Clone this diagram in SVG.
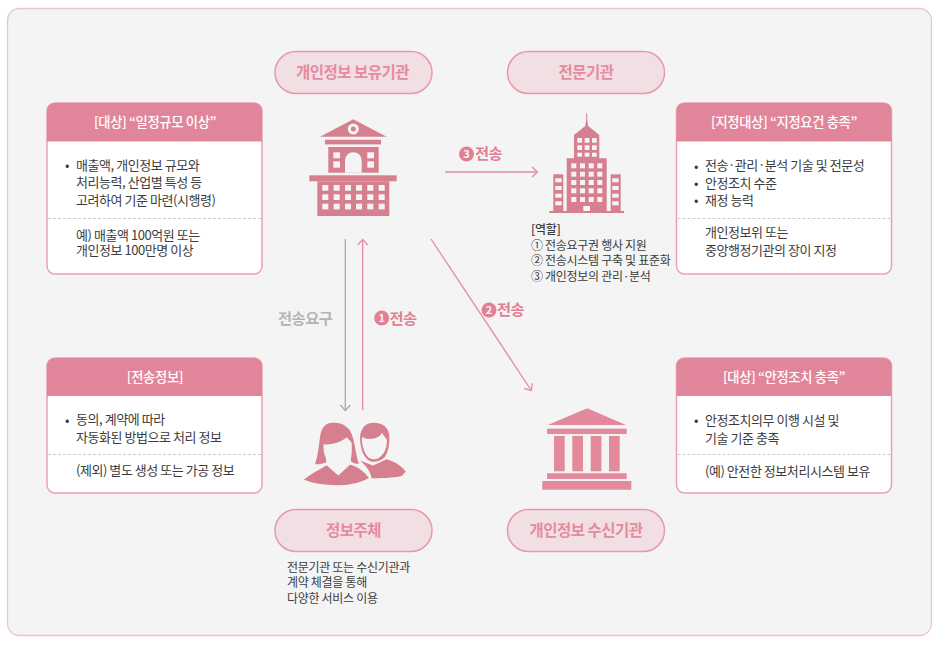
<svg xmlns="http://www.w3.org/2000/svg" width="940" height="645" viewBox="0 0 940 645">
<style>
text{font-family:"Noto Sans CJK KR","Noto Sans",sans-serif;}
.b{font-size:13px;fill:#3c3c3c;letter-spacing:-.45px}
.s{font-size:12px;fill:#3c3c3c;letter-spacing:-.3px}
.h{font-size:13.300px;fill:#fff;font-weight:500;text-anchor:middle;letter-spacing:-.35px}
.p{font-size:15.500px;fill:#e58ba0;font-weight:700;text-anchor:middle;letter-spacing:-.5px}
.card{fill:#fff;stroke:#e9a0b0;stroke-width:1.5}
.head{fill:#e1869a}
.dash{stroke:#ccc;stroke-width:1;stroke-dasharray:3 2}
.pill{fill:#f2dfe4;stroke:#e799ab;stroke-width:1.5}
.w{fill:#f4f4f4}
.lp{fill:none;stroke:#e58ba0;stroke-width:1.3}
.lg{fill:none;stroke:#aaa;stroke-width:1.3}
.l{font-size:15.300px;font-weight:700;fill:#e17f95;letter-spacing:-.5px}
.gap{stroke:#f4f4f4;stroke-width:1.4}
</style>
<defs>
<marker id="ap" markerWidth="12" markerHeight="12" refX="9" refY="6" orient="auto" markerUnits="userSpaceOnUse"><path d="M4 1 L9.500 6 L4 11" fill="none" stroke="#e58ba0" stroke-width="1.3"/></marker>
<marker id="ag" markerWidth="12" markerHeight="12" refX="9" refY="6" orient="auto" markerUnits="userSpaceOnUse"><path d="M4 1 L9.500 6 L4 11" fill="none" stroke="#aaa" stroke-width="1.300"/></marker>
</defs>
<rect width="940" height="645" fill="#fff"/>
<rect x="7.500" y="8.500" width="924" height="627" rx="12" fill="#f4f4f4" stroke="#eec4d0" stroke-width="1.300"/>

<g id="connectors">
<path class="lg" d="M345.300 239V410" marker-end="url(#ag)"/>
<path class="lp" d="M362.700 410V240" marker-end="url(#ap)"/>
<path class="lp" d="M431 239L531 390" marker-end="url(#ap)"/>
<path class="lp" d="M445 172H537" marker-end="url(#ap)"/>
<text x="278" y="323.500" style="font-size:15.300px;font-weight:700;fill:#b5b5b5;letter-spacing:-.5px">전송요구</text>
<circle cx="381.700" cy="318" r="7.500" fill="#e17f95"/><text x="381.700" y="322" text-anchor="middle" style="font-size:11px;font-weight:700;fill:#f4f4f4">1</text>
<text class="l" x="389.500" y="323.500">전송</text>
<circle cx="489" cy="310" r="7.500" fill="#e17f95"/><text x="489" y="314" text-anchor="middle" style="font-size:11px;font-weight:700;fill:#f4f4f4">2</text>
<text class="l" x="497" y="315">전송</text>
<circle cx="466.500" cy="154" r="7.500" fill="#e17f95"/><text x="466.500" y="158" text-anchor="middle" style="font-size:11px;font-weight:700;fill:#f4f4f4">3</text>
<text class="l" x="475" y="159">전송</text>
</g>

<g id="pill-holder"><rect class="pill" x="275" y="51.500" width="157" height="42" rx="21"/><text class="p" x="352.500" y="77.500">개인정보 보유기관</text></g>
<g id="pill-expert"><rect class="pill" x="507.500" y="51.500" width="157" height="42" rx="21"/><text class="p" x="586" y="77.500">전문기관</text></g>
<g id="pill-subject"><rect class="pill" x="275" y="509.500" width="157" height="42" rx="21"/><text class="p" x="353.500" y="535.500">정보주체</text></g>
<g id="pill-receiver"><rect class="pill" x="507.500" y="509.500" width="157" height="42" rx="21"/><text class="p" x="586" y="535.500">개인정보 수신기관</text></g>

<g id="icon-holder" fill="#d6808f">
<path d="M320 136.700L353.300 119.300L386.700 136.700Z"/>
<circle cx="353.300" cy="129" r="5.500" class="w"/><circle cx="353.300" cy="129" r="2.500"/>
<rect x="325" y="139.700" width="56" height="4.700"/>
<rect x="328.300" y="147" width="50.400" height="25.700"/>
<path class="w" d="M345 172.700V160.500a8.300 8.300 0 0 1 16.700 0V172.700Z"/>
<g class="w"><rect x="333.300" y="152.300" width="6.700" height="6"/><rect x="333.300" y="161.300" width="6.700" height="6.400"/><rect x="367.300" y="152.300" width="6.700" height="6"/><rect x="367.300" y="161.300" width="6.700" height="6.400"/></g>
<rect x="309.300" y="175.300" width="87.400" height="6"/>
<rect x="317.300" y="181.300" width="72" height="34.700"/>
<g class="w">
<rect x="322.300" y="185" width="6" height="5.700"/><rect x="333.700" y="185" width="6" height="5.700"/><rect x="345" y="185" width="6" height="5.700"/><rect x="356" y="185" width="6" height="5.700"/><rect x="367.300" y="185" width="6" height="5.700"/><rect x="378.700" y="185" width="6" height="5.700"/>
<rect x="322.300" y="194.300" width="6" height="5.700"/><rect x="333.700" y="194.300" width="6" height="5.700"/><rect x="345" y="194.300" width="6" height="5.700"/><rect x="356" y="194.300" width="6" height="5.700"/><rect x="367.300" y="194.300" width="6" height="5.700"/><rect x="378.700" y="194.300" width="6" height="5.700"/>
<rect x="322.300" y="203.700" width="6" height="5.700"/><rect x="333.700" y="203.700" width="6" height="5.700"/><rect x="345" y="203.700" width="6" height="5.700"/><rect x="356" y="203.700" width="6" height="5.700"/><rect x="367.300" y="203.700" width="6" height="5.700"/><rect x="378.700" y="203.700" width="6" height="5.700"/>
</g>
</g>

<g id="icon-expert" fill="#d6808f">
<rect x="549.300" y="211" width="74.700" height="2"/>
<path d="M586.200 113.300h1V120l1 6 11.100 9V158.300h7.400V211H566.700V158.300H574V135l11.200-9 1-6Z"/>
<rect x="553.300" y="174.300" width="10" height="36.700"/><rect x="610.700" y="174.300" width="10" height="36.700"/>
<g class="w">
<rect x="577.300" y="138" width="4.700" height="4.700"/><rect x="584.700" y="138" width="4.700" height="4.700"/><rect x="592" y="138" width="4.700" height="4.700"/>
<rect x="577.300" y="145.300" width="4.700" height="4.700"/><rect x="584.700" y="145.300" width="4.700" height="4.700"/><rect x="592" y="145.300" width="4.700" height="4.700"/>
<rect x="577.300" y="152.700" width="4.700" height="4"/><rect x="584.700" y="152.700" width="4.700" height="4"/><rect x="592" y="152.700" width="4.700" height="4"/>
<rect x="571.300" y="163.300" width="5" height="5"/><rect x="580" y="163.300" width="5" height="5"/><rect x="588.700" y="163.300" width="5" height="5"/><rect x="597.300" y="163.300" width="5" height="5"/>
<rect x="571.300" y="171.700" width="5" height="5"/><rect x="580" y="171.700" width="5" height="5"/><rect x="588.700" y="171.700" width="5" height="5"/><rect x="597.300" y="171.700" width="5" height="5"/>
<rect x="571.300" y="180" width="5" height="5"/><rect x="580" y="180" width="5" height="5"/><rect x="588.700" y="180" width="5" height="5"/><rect x="597.300" y="180" width="5" height="5"/>
<rect x="571.300" y="188.300" width="5" height="5"/><rect x="580" y="188.300" width="5" height="5"/><rect x="588.700" y="188.300" width="5" height="5"/><rect x="597.300" y="188.300" width="5" height="5"/>
<rect x="571.300" y="197" width="5" height="5"/><rect x="580" y="197" width="5" height="5"/><rect x="588.700" y="197" width="5" height="5"/><rect x="597.300" y="197" width="5" height="5"/>
<rect x="583.300" y="206" width="6.700" height="5"/>
<rect x="555.300" y="178.300" width="6.400" height="4"/><rect x="555.300" y="186" width="6.400" height="4"/><rect x="555.300" y="193.700" width="6.400" height="4"/><rect x="555.300" y="201.300" width="6.400" height="4"/>
<rect x="612.300" y="178.300" width="6.400" height="4"/><rect x="612.300" y="186" width="6.400" height="4"/><rect x="612.300" y="193.700" width="6.400" height="4"/><rect x="612.300" y="201.300" width="6.400" height="4"/>
</g>
</g>

<g id="icon-receiver" fill="#e28a9b">
<path d="M547.700 425L587.300 408.300L626 425Z"/>
<rect x="547" y="428.700" width="79.700" height="5.300"/>
<rect x="554" y="436" width="10.700" height="35.300"/><rect x="572.300" y="436" width="10.700" height="35.300"/><rect x="590.700" y="436" width="10.700" height="35.300"/><rect x="609" y="436" width="10.700" height="35.300"/>
<rect x="547" y="473.300" width="79.700" height="5.700"/>
<rect x="542.300" y="481" width="89" height="8.700"/>
</g>

<g id="icon-subject" fill="#d6808f">
<path d="M360 436.700C361 427 367 422.700 373.300 422.700C382 422.700 389 427 389.300 436C389.800 445 388 452 385 456.700C382 460 378 461.700 373.300 461.700C366 461.700 360 452 360 436.700Z"/>
<path class="w" d="M361.800 437C367 440 378 440 382 433L387 440C387 450 382 459.300 373.300 459.300C367 459.300 361.800 450 361.800 437Z"/>
<path d="M360 460.500L373 465.500L386.700 459.300C395 462 402 466 405.700 471.700L401.700 476C392 478 380 478.300 371.700 478.300C370 470 365 465 360 460.500Z"/>
<path class="gap" d="M314 465C318 455 318 443 320 433C322 425 327 421.700 333.300 421.700C343 421.700 349 426 352 433C356 442 356 456 360 465L354 464L350 461.500C351 456 351.500 450 351 443L346.700 438.300C341 443 332 446 324.300 445C324 450 325 455 326.700 458L327 463L320 465Z"/>
<path style="fill:#f4f4f4" d="M324.300 445C332 446 341 443 346.700 438.300L351 443C351.500 452 348 465 338.300 465C330 465 325 455 324.300 445Z"/>
<path class="gap" d="M302.300 480C308 475 315 471 320 468.300L326.700 464.500L338.300 474.500L350 463.800C358 466 365 471 370 478.300C360 484 348 486 336.700 486C325 486 312 484 302.300 480Z"/>
</g>

<g id="card-target">
<rect class="card" x="47" y="103" width="215" height="171" rx="8"/>
<path class="head" d="M47 141.500V111a8 8 0 0 1 8-8H254a8 8 0 0 1 8 8V141.500Z"/>
<text class="h" x="155" y="127">[대상] “일정규모 이상”</text>
<text class="b" x="65" y="170">•</text>
<text class="b" x="76" y="169.500">매출액, 개인정보 규모와</text>
<text class="b" x="76" y="187">처리능력, 산업별 특성 등</text>
<text class="b" x="76" y="204.500">고려하여 기준 마련(시행령)</text>
<path class="dash" d="M48 218.500H261"/>
<text class="b" x="76" y="239.500">예) 매출액 100억원 또는</text>
<text class="b" x="76" y="255">개인정보 100만명 이상</text>
</g>

<g id="card-data">
<rect class="card" x="47" y="358" width="215" height="135" rx="8"/>
<path class="head" d="M47 396V366a8 8 0 0 1 8-8H254a8 8 0 0 1 8 8V396Z"/>
<text class="h" x="155" y="382">[전송정보]</text>
<text class="b" x="65" y="424.500">•</text>
<text class="b" x="76" y="424">동의, 계약에 따라</text>
<text class="b" x="76" y="441.500">자동화된 방법으로 처리 정보</text>
<path class="dash" d="M48 454.500H261"/>
<text class="b" x="76" y="475">(제외) 별도 생성 또는 가공 정보</text>
</g>

<g id="card-designated">
<rect class="card" x="676.500" y="103" width="215" height="171" rx="8"/>
<path class="head" d="M676.500 141.500V111a8 8 0 0 1 8-8H883.500a8 8 0 0 1 8 8V141.500Z"/>
<text class="h" x="784" y="127">[지정대상] “지정요건 충족”</text>
<text class="b" x="694" y="170.500">•</text>
<text class="b" x="705" y="170">전송·관리·분석 기술 및 전문성</text>
<text class="b" x="694" y="188">•</text>
<text class="b" x="705" y="187.500">안정조치 수준</text>
<text class="b" x="694" y="205">•</text>
<text class="b" x="705" y="204.500">재정 능력</text>
<path class="dash" d="M677.500 218.500H890.500"/>
<text class="b" x="705" y="237">개인정보위 또는</text>
<text class="b" x="705" y="255">중앙행정기관의 장이 지정</text>
</g>

<g id="card-safety">
<rect class="card" x="676.500" y="358" width="215" height="135" rx="8"/>
<path class="head" d="M676.500 396V366a8 8 0 0 1 8-8H883.500a8 8 0 0 1 8 8V396Z"/>
<text class="h" x="784" y="382">[대상] “안정조치 충족”</text>
<text class="b" x="694" y="425">•</text>
<text class="b" x="705" y="424.500">안정조치의무 이행 시설 및</text>
<text class="b" x="705" y="443">기술 기준 충족</text>
<path class="dash" d="M677.500 454.500H890.500"/>
<text class="b" x="705" y="476">(예) 안전한 정보처리시스템 보유</text>
</g>

<g id="note-role">
<text class="s" x="531" y="234" style="font-weight:500">[역할]</text>
<text class="s" x="531" y="249.500">① 전송요구권 행사 지원</text>
<text class="s" x="531" y="265">② 전송시스템 구축 및 표준화</text>
<text class="s" x="531" y="281">③ 개인정보의 관리·분석</text>
</g>
<g id="note-subject">
<text class="s" x="287" y="572">전문기관 또는 수신기관과</text>
<text class="s" x="287" y="587">계약 체결을 통해</text>
<text class="s" x="287" y="602.500">다양한 서비스 이용</text>
</g>
</svg>
